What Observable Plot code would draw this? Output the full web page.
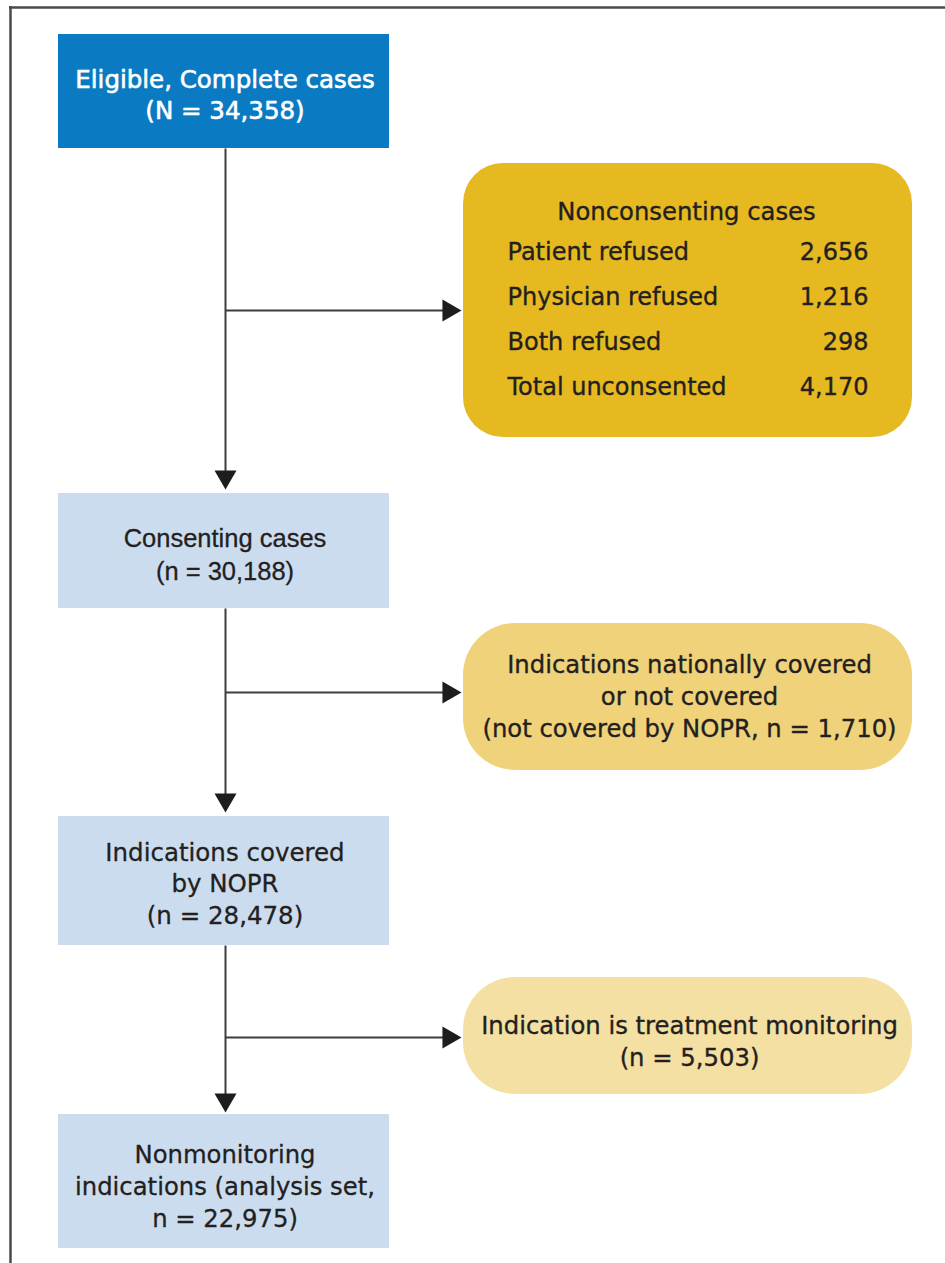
<!DOCTYPE html>
<html><head><meta charset="utf-8">
<script src="https://cdn.jsdelivr.net/npm/d3@7"></script>
<script src="https://cdn.jsdelivr.net/npm/@observablehq/plot@0.6"></script>
<style>html,body{margin:0;padding:0;background:#fff;overflow:hidden}</style>
</head><body><div id="chart"></div>
<script>
// ---------- data ----------
const stepLabels = ["Eligible, Complete cases", "Consenting cases", "Indications covered\nby NOPR", "Nonmonitoring\nindications (analysis set,"];
const stepCountFormats = ["(N = {})", "(n = {})", "(n = {})", "n = {})"];
const stepCounts = [34358, 30188, 28478, 22975];
const exclusionLabels = ["Nonconsenting cases", "Indications nationally covered\nor not covered\n(not covered by NOPR, n = {})", "Indication is treatment monitoring\n(n = {})"];
const exclusionCounts = [4170, 1710, 5503];
const refusalReasons = ["Patient refused", "Physician refused", "Both refused", "Total unconsented"];
const refusalCounts = [2656, 1216, 298, 4170];

// ---------- layout & style ----------
const fmt = d3.format(",");
const stepBoxX = [58, 389];
const stepBoxY = [[34, 148], [493, 608], [816, 945], [1114, 1248]];
const stepTextY = [93, 552, 882, 1184];
const stepFill = ["#0a7bc2", "#ccdcef", "#ccdcef", "#ccdcef"];
const stepTextFill = ["#ffffff", "#231f20", "#231f20", "#231f20"];
const stepFont = ["DejaVu Sans", "Liberation Sans", "DejaVu Sans", "DejaVu Sans"];
const stepFontSize = [24.5, 25.5, 24.5, 24.3];
const stepLineHeight = [1.25, 1.3, 1.27, 1.32];
const exBoxX = [463, 912];
const exBoxY = [[163, 437], [623, 770], [977, 1094]];
const exRadius = [40, 52, 52];
const exFill = ["#e6b921", "#f0d27a", "#f4e0a2"];
const exTextY = [209, 694, 1039];
const exTextX = [686, 689, 689];
const refusalY = [252, 297, 342, 387];
const spineX = 225;
const branchY = [310, 692, 1037];
const branchTipX = 461;
const downTipY = [489, 812, 1112];
const triR = 10.5;           // d3.symbolTriangle2 -> circumradius ≈ 12.7
const triC = 12.7;

const steps = stepLabels.map((l, i) => ({
  i, x1: stepBoxX[0], x2: stepBoxX[1], y1: stepBoxY[i][0], y2: stepBoxY[i][1],
  x: (stepBoxX[0] + stepBoxX[1]) / 2 + 1, y: stepTextY[i],
  text: l + "\n" + stepCountFormats[i].replace("{}", fmt(stepCounts[i]))
}));
const exclusions = exclusionLabels.map((l, i) => ({
  i, x1: exBoxX[0], x2: exBoxX[1], y1: exBoxY[i][0], y2: exBoxY[i][1],
  x: exTextX[i], y: exTextY[i],
  text: i === 0 ? l : l.replace("{}", fmt(exclusionCounts[i]))
}));
const refusals = refusalReasons.map((r, i) => ({label: r, value: fmt(refusalCounts[i]), y: refusalY[i]}));

const vSegs = [0, 1, 2].map(i => ({x: spineX, y1: stepBoxY[i][1], y2: downTipY[i] - 6}));
const hSegs = branchY.map(y => ({y, x1: spineX, x2: branchTipX - 6}));
const heads = [
  ...downTipY.map(y => ({x: spineX, y: y - triC, r: 180})),
  ...branchY.map(y => ({x: branchTipX - triC, y, r: 90}))
];

const ink = "#231f20";
const lineCol = "#3d3d3d";
const inkStroke = {stroke: ink, strokeWidth: 0.35};

const chart = Plot.plot({
  width: 945, height: 1263, margin: 0,
  x: {domain: [0, 945], range: [0, 945], axis: null},
  y: {domain: [0, 1263], range: [0, 1263], axis: null},
  style: {background: "#fff"},
  marks: [
    // outer border
    Plot.ruleY([7], {x1: 9, x2: 990, stroke: "#4a4a4a", strokeWidth: 2.5}),
    Plot.ruleX([10], {y1: 6, y2: 1300, stroke: "#4a4a4a", strokeWidth: 2.5}),
    // connectors
    Plot.link(vSegs, {x1: "x", x2: "x", y1: "y1", y2: "y2", stroke: lineCol, strokeWidth: 2}),
    Plot.link(hSegs, {x1: "x1", x2: "x2", y1: "y", y2: "y", stroke: lineCol, strokeWidth: 2}),
    Plot.dot(heads, {x: "x", y: "y", rotate: "r", symbol: "triangle2", r: triR, fill: "#1e1c1d", stroke: null}),
    // main boxes
    Plot.rect(steps, {x1: "x1", x2: "x2", y1: "y1", y2: "y2", fill: d => stepFill[d.i]}),
    ...steps.map(s => Plot.text([s], {
      x: "x", y: "y", text: "text", fill: stepTextFill[s.i],
      fontFamily: stepFont[s.i], fontSize: stepFontSize[s.i], lineHeight: stepLineHeight[s.i],
      stroke: s.i === 0 ? "#ffffff" : ink, strokeWidth: s.i === 0 ? 0.6 : 0.3
    })),
    // exclusion boxes
    ...exclusions.map(e => Plot.rect([e], {x1: "x1", x2: "x2", y1: "y1", y2: "y2", rx: exRadius[e.i], fill: exFill[e.i]})),
    Plot.text(exclusions, {x: "x", y: "y", text: "text", fill: ink, fontFamily: "DejaVu Sans", fontSize: 24.3, lineHeight: 1.31, ...inkStroke}),
    // refusal table
    Plot.text(refusals, {x: 507, y: "y", text: "label", textAnchor: "start", fill: ink, fontFamily: "DejaVu Sans", fontSize: 24, ...inkStroke}),
    Plot.text(refusals, {x: 868, y: "y", text: "value", textAnchor: "end", fill: ink, fontFamily: "DejaVu Sans", fontSize: 24, ...inkStroke})
  ]
});
document.getElementById("chart").appendChild(chart);
</script>
</body></html>
